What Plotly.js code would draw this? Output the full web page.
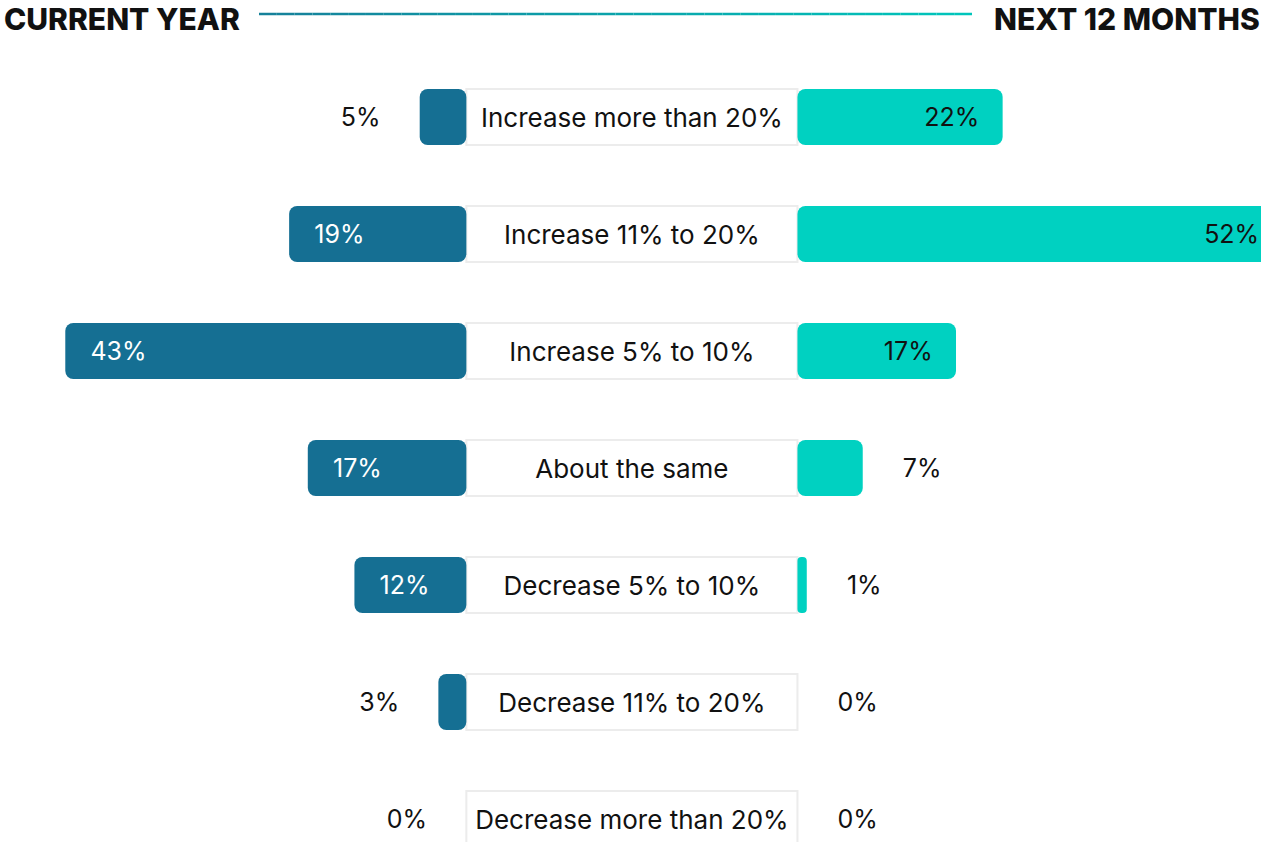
<!DOCTYPE html>
<html><head><meta charset="utf-8">
<script src="https://cdn.plot.ly/plotly-3.0.1.min.js"></script>
<style>html,body{margin:0;padding:0;background:#fff;}#chart{width:1261px;height:842px;}</style>
</head><body><div id="chart"></div>
<script>
// ---- data ----
const categories = ["Increase more than 20%","Increase 11% to 20%","Increase 5% to 10%","About the same","Decrease 5% to 10%","Decrease 11% to 20%","Decrease more than 20%"];
const currentYear = [5, 19, 43, 17, 12, 3, 0];
const next12Months = [22, 52, 17, 7, 1, 0, 0];
const leftHeader = "CURRENT YEAR";
const rightHeader = "NEXT 12 MONTHS";

// ---- layout constants (style/position) ----
const BOX = 35.5;           // width of centre label box in axis units
const BARW = 0.48;
const DARK = "#156f93", TEAL = "#00d1c1";
const FONT = "Inter, 'Open Sans', sans-serif";
const FS = 25, FSC = 26;
const DY = 3/117;           // small downward text nudge
const idx = categories.map((c,i)=>i);
const tidx = idx.map(i=>i+DY);

const leftBars = {type:"bar", orientation:"h", y:idx, x:currentYear.map(v=>-v), base:0, width:BARW,
  marker:{color:DARK, cornerradius:8, line:{width:0}}, hoverinfo:"skip"};
const rightBars = {type:"bar", orientation:"h", y:idx, x:next12Months, base:BOX, width:BARW,
  marker:{color:TEAL, cornerradius:8, line:{width:0}}, hoverinfo:"skip"};
const boxes = {type:"bar", orientation:"h", y:idx, x:idx.map(()=>BOX), base:0, width:BARW,
  marker:{color:"#ffffff", line:{color:"#ececec", width:2}}, hoverinfo:"skip"};
const boxText = {type:"scatter", mode:"text", y:tidx, x:idx.map(()=>BOX/2), text:categories,
  textposition:"middle center", textfont:{family:FONT, size:FSC, color:"#111"}, hoverinfo:"skip"};

const TH = 10;
const leftLabels = {type:"scatter", mode:"text", y:tidx,
  x:currentYear.map(v=> v>=TH ? -v+2.7 : -v-4.2),
  text:currentYear.map(v=>v+"%"),
  textposition:currentYear.map(v=> v>=TH ? "middle right" : "middle left"),
  textfont:{family:FONT, size:FS, color:currentYear.map(v=> v>=TH ? "#ffffff" : "#111")}, hoverinfo:"skip"};
const rightLabels = {type:"scatter", mode:"text", y:tidx,
  x:next12Months.map(v=> v>=TH ? BOX+v-2.5 : BOX+v+4.3),
  text:next12Months.map(v=>v+"%"),
  textposition:next12Months.map(v=> v>=TH ? "middle left" : "middle right"),
  textfont:{family:FONT, size:FS, color:"#111"}, hoverinfo:"skip", cliponaxis:false};

// gradient header line built from segments
const shapes = [];
const x0 = 259/1261, x1 = 972/1261, N = 40;
const c0 = [0x16,0x80,0x9a], c1 = [0x00,0xc6,0xbb];
for (let k=0;k<N;k++){
  const t=(k+0.5)/N;
  const c=c0.map((a,j)=>Math.round(a+(c1[j]-a)*t));
  shapes.push({type:"line", xref:"paper", yref:"paper", x0:x0+(x1-x0)*k/N, x1:x0+(x1-x0)*(k+1)/N,
    y0:1-14/842, y1:1-14/842, line:{color:`rgb(${c.join(",")})`, width:2.5}});
}

const layout = {
  width:1261, height:842, margin:{l:0,r:0,t:0,b:0},
  paper_bgcolor:"#fff", plot_bgcolor:"#fff", showlegend:false, barmode:"overlay",
  xaxis:{range:[-50, 85.2], visible:false, fixedrange:true},
  yaxis:{range:[(842-117)/117, -1], visible:false, fixedrange:true},
  shapes:shapes,
  annotations:[
    {xref:"paper", yref:"paper", x:3/1261, y:1, xanchor:"left", yanchor:"top", showarrow:false, borderpad:0,
     text:leftHeader, font:{family:FONT, size:30, color:"#111", weight:800}},
    {xref:"paper", yref:"paper", x:1, y:1, xanchor:"right", yanchor:"top", showarrow:false, borderpad:0,
     text:rightHeader, font:{family:FONT, size:30, color:"#111", weight:800}}
  ]
};
Plotly.newPlot("chart", [boxes, leftBars, rightBars, boxText, leftLabels, rightLabels], layout, {staticPlot:true, displayModeBar:false});
</script></body></html>
